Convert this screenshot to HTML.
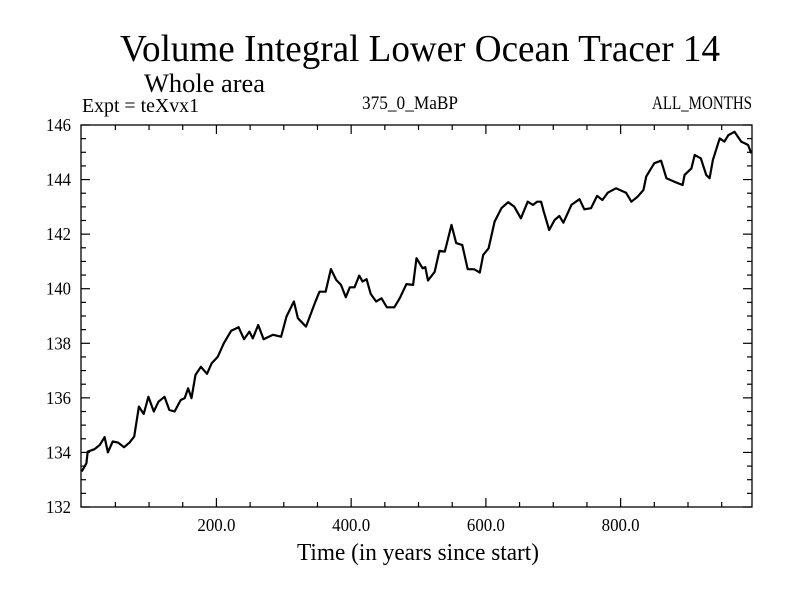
<!DOCTYPE html>
<html><head><meta charset="utf-8"><style>
html,body{margin:0;padding:0;background:#fff;}
svg text{font-family:"Liberation Serif",serif;fill:#000;}
</style></head><body>
<svg id="chart" width="800" height="600" viewBox="0 0 800 600" xmlns="http://www.w3.org/2000/svg">
<text x="120" y="61" font-size="38" textLength="600" lengthAdjust="spacingAndGlyphs">Volume Integral Lower Ocean Tracer 14</text>
<text x="144" y="92" font-size="26" textLength="121" lengthAdjust="spacingAndGlyphs">Whole area</text>
<text x="82" y="112" font-size="20" textLength="117" lengthAdjust="spacingAndGlyphs">Expt = teXvx1</text>
<text x="362" y="109" font-size="19" textLength="96" lengthAdjust="spacingAndGlyphs">375_0_MaBP</text>
<text x="652" y="109" font-size="19" textLength="100" lengthAdjust="spacingAndGlyphs">ALL_MONTHS</text>
<text x="297" y="560" font-size="24" textLength="242" lengthAdjust="spacingAndGlyphs">Time (in years since start)</text>
<g id="axes"></g>
<path id="line" fill="none" stroke="#000" stroke-width="2.2" stroke-linejoin="round"/>
<rect x="81" y="125" width="671" height="382" fill="none" stroke="#000" stroke-width="1.3"/>
</svg>
<script>
const years = [0,7,9,19,27,34,39,46,54,63,71,78,85,92,99,107,114,123,130,138,147,153,158,163,169,177,186,193,202,211,222,233,241,249,254,262,270,284,296,304,315,321,333,346,353,362,370,378,385,392,398,405,412,417,423,429,437,445,453,464,472,482,492,497,506,510,514,524,531,539,549,556,565,573,583,591,596,604,613,623,633,642,652,662,670,676,682,686,694,702,709,715,727,739,746,756,765,773,781,793,808,816,825,834,838,850,860,868,880,892,895,905,910,919,927,932,937,947,954,960,969,979,989,994];
const values = [133.30,133.60,134.03,134.12,134.28,134.56,134.00,134.40,134.36,134.19,134.36,134.58,135.68,135.41,136.04,135.50,135.86,136.04,135.56,135.50,135.92,135.99,136.35,135.99,136.84,137.14,136.88,137.27,137.51,138.00,138.46,138.59,138.15,138.43,138.18,138.67,138.15,138.31,138.24,138.98,139.53,138.92,138.61,139.47,139.89,139.89,140.72,140.32,140.14,139.69,140.05,140.05,140.48,140.26,140.35,139.81,139.53,139.65,139.32,139.32,139.65,140.17,140.14,141.12,140.75,140.79,140.30,140.62,141.39,141.36,142.34,141.67,141.60,140.72,140.71,140.59,141.24,141.48,142.46,142.95,143.17,143.01,142.58,143.19,143.07,143.19,143.19,142.82,142.15,142.52,142.67,142.42,143.07,143.28,142.91,142.95,143.40,143.25,143.52,143.68,143.52,143.19,143.37,143.62,144.11,144.60,144.69,144.05,143.92,143.80,144.17,144.41,144.90,144.78,144.17,144.05,144.72,145.51,145.39,145.63,145.75,145.39,145.27,144.96];
const xTickLabels = ["200.0","400.0","600.0","800.0"];
const xTickValues = [200,400,600,800];
const yTickValues = [132,134,136,138,140,142,144,146];

const X0=81,X1=752,Y0=507,Y1=125,XMIN=-1,XMAX=995,YMIN=132,YMAX=146;
const sx=v=>X0+(v-XMIN)/(XMAX-XMIN)*(X1-X0);
const sy=v=>Y0-(v-YMIN)/(YMAX-YMIN)*(Y0-Y1);
const NS="http://www.w3.org/2000/svg";
const axes=document.getElementById('axes');
function line(x1,y1,x2,y2,name){const l=document.createElementNS(NS,'line');
l.setAttribute('x1',x1);l.setAttribute('y1',y1);l.setAttribute('x2',x2);l.setAttribute('y2',y2);
l.setAttribute('stroke','#000');l.setAttribute('stroke-width','1.2');


axes.appendChild(l);}
function text(x,y,s,anchor,len,name){const t=document.createElementNS(NS,'text');
t.setAttribute('x',x);t.setAttribute('y',y);t.setAttribute('font-size','18');t.setAttribute('text-anchor',anchor);
t.setAttribute('textLength',len);t.setAttribute('lengthAdjust','spacingAndGlyphs');t.textContent=s;


axes.appendChild(t);}
for(let v=50;v<XMAX;v+=50){const x=sx(v);const major=v%200===0;const L=major?9:5;
line(x,Y0,x,Y0-L,'x-tick');line(x,Y1,x,Y1+L,'x-tick-top');}
xTickValues.forEach((v,i)=>text(sx(v),531,xTickLabels[i],'middle',38,'x-tick-label'));
for(let v=YMIN;v<=YMAX+1e-9;v+=0.5){const y=sy(v);const major=Math.abs(v%2)<1e-9;const L=major?9:5;
line(X0,y,X0+L,y,'y-tick');line(X1,y,X1-L,y,'y-tick-right');}
yTickValues.forEach(v=>text(71,sy(v)+6,String(v),'end',25,'y-tick-label'));
document.getElementById('line').setAttribute('d',years.map((yr,i)=>(i?'L':'M')+sx(yr).toFixed(1)+' '+sy(values[i]).toFixed(1)).join(' '));
</script>
</body></html>
